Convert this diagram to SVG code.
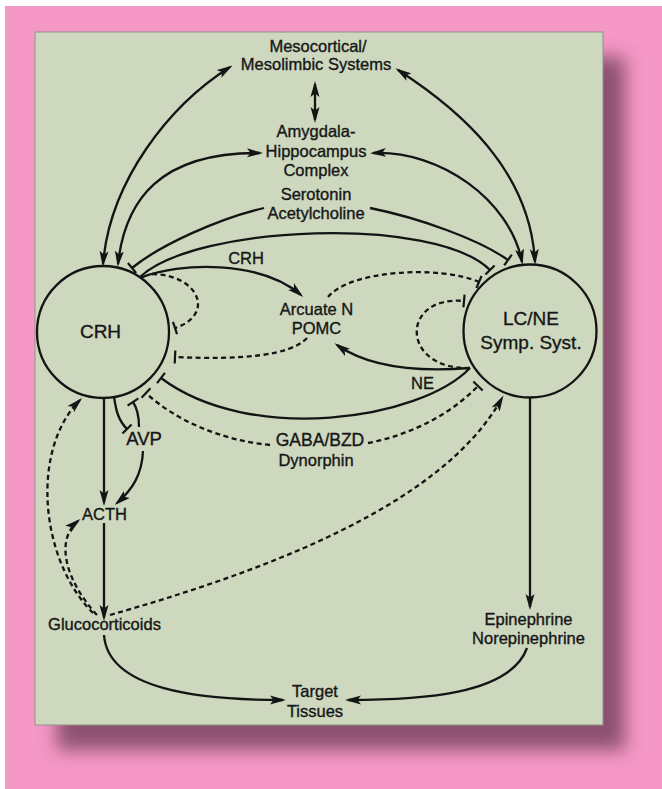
<svg xmlns="http://www.w3.org/2000/svg" width="662" height="789" viewBox="0 0 662 789">
  <defs>
    <filter id="blur" x="-10%" y="-10%" width="120%" height="120%">
      <feGaussianBlur stdDeviation="9"/>
    </filter>
    <marker id="arr" viewBox="0 0 16 10" refX="13" refY="5" markerWidth="16" markerHeight="10" markerUnits="userSpaceOnUse" orient="auto-start-reverse">
      <path d="M0,0.5 L16,5 L0,9.5 L3.5,5 Z" fill="#141414"/>
    </marker>
    <marker id="tee" viewBox="-2 -7 4 14" refX="0" refY="0" markerWidth="4" markerHeight="14" markerUnits="userSpaceOnUse" orient="auto">
      <path d="M0,-6.5 L0,6.5" stroke="#141414" stroke-width="2.2" fill="none"/>
    </marker>
    <style>
      .t { font-family: "Liberation Sans", Arial, sans-serif; font-size: 16.5px; fill: #161616; stroke: #161616; stroke-width: 0.35; text-anchor: middle; }
      .big { font-size: 19px; }
      .ln { fill: none; stroke: #141414; stroke-width: 2.3; }
      .ds { fill: none; stroke: #141414; stroke-width: 2.3; stroke-dasharray: 5 3.5; }
      .node { fill: none; stroke: #141414; stroke-width: 2.3; }
      .a2 { marker-start: url(#arr); marker-end: url(#arr); }
      .a1 { marker-end: url(#arr); }
      .tb { marker-end: url(#tee); }
    </style>
  </defs>

  <!-- background -->
  <rect x="0" y="0" width="662" height="789" fill="#ffffff"/>
  <rect x="5" y="6" width="657" height="783" fill="#F598C6"/>
  <rect x="57" y="57" width="568" height="693" fill="#7a4560" opacity="0.85" filter="url(#blur)"/>
  <rect x="35" y="32" width="568" height="693" fill="#CDD8BE" stroke="#8f9488" stroke-width="1"/>

  <!-- connectors -->
  <g id="connectors">
    <path class="ln a2" d="M315,84 L315,120"/>
    <path class="ln a2" d="M103,264 C110,180 170,105 230,67"/>
    <path class="ln a2" d="M118,264 C125,200 160,152 260,153"/>
    <path class="ln tb" d="M264,208 C220,218 160,245 132,268"/>
    <path class="ln a2" d="M398,70 C460,110 530,170 535,262"/>
    <path class="ln a2" d="M373,153 C440,150 510,200 522,262"/>
    <path class="ln tb" d="M370,208 C420,218 480,240 508,260"/>
    <path class="ln tb" d="M140,277 C195,225 435,215 490,270"/>
    <path class="ln a1" d="M140,278 C180,262 260,260 301,295"/>
    <path class="ds tb" d="M152,274 C200,275 215,315 175,328"/>
    <path class="ds tb" d="M307,338 C290,356 240,360 175,357"/>
    <path class="ds tb" d="M328,297 C350,270 440,265 479,282"/>
    <path class="ds tb" d="M470,368 C400,370 400,295 464,301"/>
    <path class="ln a1" d="M470,368 C420,372 370,368 337,345"/>
    <path class="ln tb" d="M470,368 C420,420 250,445 161,378"/>
    <path class="ds tb" d="M270,445 C220,440 175,420 146,393"/>
    <path class="ds tb" d="M368,443 C410,435 450,415 478,386"/>
    <path class="ln tb" d="M114,397 C116,410 118,420 127,429"/>
    <path class="ln tb" d="M139,427 C139,418 137,408 133,402"/>
    <path class="ln a1" d="M143,451 C142,475 132,490 117,503"/>
    <path class="ln a1" d="M104,398 L104,503"/>
    <path class="ln a1" d="M104,523 L104,618"/>
    <path class="ln a1" d="M104,635 C108,690 200,700 283,700"/>
    <path class="ln a1" d="M527,648 C510,695 420,700 348,700"/>
    <path class="ln a1" d="M530,398 L530,607"/>
    <path class="ds a1" d="M93,613 C40,560 30,450 80,400"/>
    <path class="ds a1" d="M97,615 C65,580 55,540 78,521"/>
    <path class="ds a1" d="M110,615 C250,575 440,510 502,398"/>
  </g>

  <!-- nodes -->
  <g id="meso">
    <text class="t" x="318" y="52">Mesocortical/</text>
    <text class="t" x="316" y="70">Mesolimbic Systems</text>
  </g>
  <g id="amygdala">
    <text class="t" x="316" y="137">Amygdala-</text>
    <text class="t" x="316" y="156.5">Hippocampus</text>
    <text class="t" x="316" y="176">Complex</text>
  </g>
  <g id="serotonin">
    <text class="t" x="316" y="200">Serotonin</text>
    <text class="t" x="316" y="219">Acetylcholine</text>
  </g>
  <g id="crh-label">
    <text class="t" x="246" y="264">CRH</text>
  </g>
  <g id="crh">
    <circle class="node" cx="103" cy="332" r="66"/>
    <text class="t big" x="100.5" y="338">CRH</text>
  </g>
  <g id="lcne">
    <circle class="node" cx="530" cy="331" r="66.5"/>
    <text class="t big" x="531" y="325">LC/NE</text>
    <text class="t big" x="531" y="349">Symp. Syst.</text>
  </g>
  <g id="arcuate">
    <text class="t" x="316.5" y="315">Arcuate N</text>
    <text class="t" x="316.5" y="334">POMC</text>
  </g>
  <g id="ne-label">
    <text class="t" x="422.5" y="389">NE</text>
  </g>
  <g id="avp">
    <text class="t" x="144" y="445" style="font-size:18.5px">AVP</text>
  </g>
  <g id="gaba">
    <text class="t" x="320" y="446" style="font-size:17.5px">GABA/BZD</text>
    <text class="t" x="316" y="466">Dynorphin</text>
  </g>
  <g id="acth">
    <text class="t" x="104.5" y="520">ACTH</text>
  </g>
  <g id="glucocorticoids">
    <text class="t" x="104.5" y="630">Glucocorticoids</text>
  </g>
  <g id="epinephrine">
    <text class="t" x="528.5" y="625">Epinephrine</text>
    <text class="t" x="528.5" y="644">Norepinephrine</text>
  </g>
  <g id="target">
    <text class="t" x="315" y="697">Target</text>
    <text class="t" x="315" y="717">Tissues</text>
  </g>
</svg>
